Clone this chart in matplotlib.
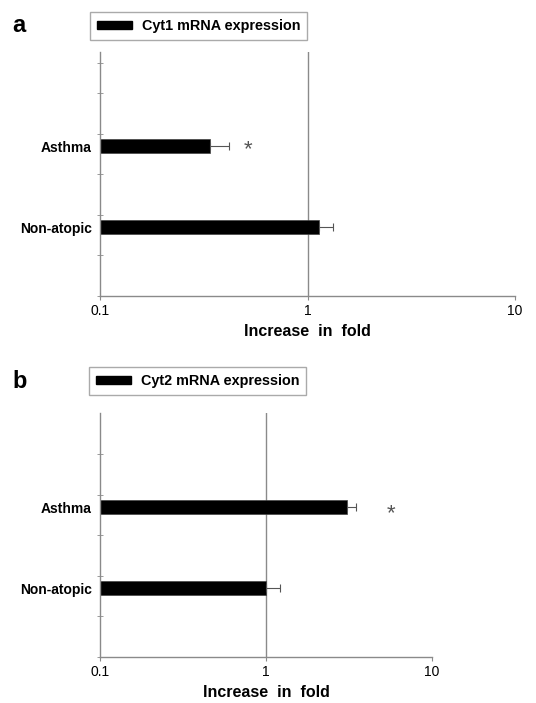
import matplotlib
matplotlib.use('Agg')
from matplotlib import pyplot as plt
from matplotlib.patches import Patch
import numpy as np

plt.rcParams['font.family'] = ['Liberation Sans', 'DejaVu Sans']

groups = ['Non-atopic', 'Asthma']
group_pos = [1.7, 3.7]

cyt1_fold = [1.135, 0.34]
cyt1_err = [0.195, 0.08]
cyt2_fold = [1.0, 3.06]
cyt2_err = [0.21, 0.43]

panels = [
    dict(letter='a', label='Cyt1 mRNA expression', vals=cyt1_fold, errs=cyt1_err,
         star=(0.516, 3.62), rect=[100/536, 1-296/703, 415/536, 244/703],
         legend_xy=(89, 12, 308, 40), extra_tick=[5.75]),
    dict(letter='b', label='Cyt2 mRNA expression', vals=cyt2_fold, errs=cyt2_err,
         star=(5.64, 3.53), rect=[100/536, 1-657/703, 332/536, 244/703],
         legend_xy=(89, 366, 306, 396), extra_tick=[]),
]

fig = plt.figure(figsize=(5.36, 7.03), dpi=100)
gray = '#8a8a8a'

for p in panels:
    ax = fig.add_axes(p['rect'])
    ax.barh(group_pos, p['vals'], height=0.35, color='black', left=0.0001,
            edgecolor='#444444', linewidth=0.5)
    ax.errorbar(p['vals'], group_pos, xerr=[np.zeros(2), p['errs']], fmt='none',
                ecolor='#555555', elinewidth=0.8, capsize=3, capthick=0.8)
    ax.set_xscale('log')
    ax.set_xlim(0.1, 10)
    ax.set_ylim(0, 6.02)
    ax.axvline(1, color=gray, lw=1, zorder=0)
    for s in ['top', 'right']:
        ax.spines[s].set_visible(False)
    for s in ['left', 'bottom']:
        ax.spines[s].set_color(gray)
        ax.spines[s].set_linewidth(1)
    ax.set_xticks([0.1, 1, 10])
    ax.set_xticklabels(['0.1', '1', '10'])
    ax.xaxis.set_minor_locator(matplotlib.ticker.NullLocator())
    ax.tick_params(axis='x', length=3, color=gray, labelsize=10, pad=3)
    ax.set_yticks([0, 1, 2, 3, 4, 5] + p['extra_tick'], minor=True)
    ax.set_yticks(group_pos)
    ax.set_yticklabels(groups, fontweight='bold', fontsize=10)
    ax.tick_params(axis='y', which='major', length=0, pad=6)
    ax.tick_params(axis='y', which='minor', direction='inout', length=5, color=gray)
    ax.set_xlabel('Increase  in  fold', fontweight='bold', fontsize=11.5, labelpad=4)
    ax.text(p['star'][0], p['star'][1], '*', fontsize=16, color='#555555',
            ha='center', va='center')

    x0, y0, x1, y1 = p['legend_xy']
    leg = fig.legend([Patch(color='black')], [p['label']], loc='center',
                     bbox_to_anchor=((x0 + x1) / 2 / 536, 1 - (y0 + y1) / 2 / 703),
                     prop={'weight': 'bold', 'size': 10.4}, fancybox=False,
                     edgecolor='#aaaaaa', handlelength=2.4, handleheight=0.45,
                     handletextpad=0.7, borderpad=0.5, framealpha=1)
    leg.get_frame().set_linewidth(1)

    fig.text(12/536, 1 - (y0 + y1) / 2 / 703, p['letter'], fontsize=17,
             fontweight='bold', va='center')

fig.savefig('out.png', dpi=100)
